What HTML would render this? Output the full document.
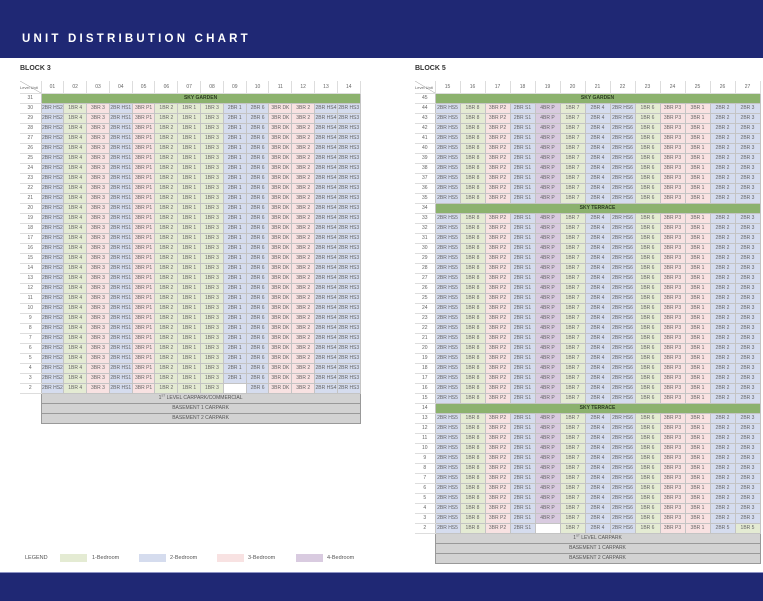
<!DOCTYPE html>
<html><head><meta charset="utf-8"><style>
body{margin:0;width:763px;height:600px;position:relative;background:#fff;font-family:"Liberation Sans",sans-serif;overflow:hidden}
.top{position:absolute;left:0;top:0;width:763px;height:58px;background:#1f2874}
.top span{position:absolute;left:22px;top:33px;color:#fff;font-size:11.5px;letter-spacing:3.2px;font-weight:bold}
.bot{position:absolute;left:0;top:572px;width:763px;height:28px;background:#1f2874;border-top:1px solid #8d93c4}
.blk{position:absolute;top:65px;font-size:7px;font-weight:bold;color:#333}
table{position:absolute;top:81px;border-collapse:collapse;table-layout:fixed;font-size:5px;color:#666}
td{padding:0;height:9px;line-height:9px;text-align:center;border:1px solid #c4c4c4;white-space:nowrap;overflow:hidden}
tr.h td{height:12px;border-top:none;border-color:#ddd}
td.l{border-left:none;border-right:1px solid #c4c4c4;border-top:none;border-bottom:1px solid #ddd;background:#fff}
td.d{position:relative;font-size:4px;text-align:left;background:linear-gradient(to top right,transparent 48%,#999 50%,transparent 52%)}
.g{background:#e4ebd3}.b{background:#d5dcee}.p{background:#f8e2e2}.v{background:#d9cbe0}
.s{background:#8cb26e;color:#2d3d20;font-weight:bold}
.c{background:#d2d2d2;color:#555;border-color:#999}
td.e{border:none;background:#fff}
td.w{background:#fff}
.leg{position:absolute;top:555px;font-size:5.5px;color:#555}
.sw{position:absolute;top:554px;width:27px;height:8px}
</style></head><body>
<div class="top"><span>UNIT DISTRIBUTION CHART</span></div>
<div class="blk" style="left:20px">BLOCK 3</div>
<div class="blk" style="left:415px">BLOCK 5</div>

<table style="left:20px;width:340px">
<colgroup><col style="width:21px"><col span="14" style="width:22.8px"></colgroup>
<tr class="h"><td class="l d">Level&nbsp;Unit</td><td>01<td>02<td>03<td>04<td>05<td>06<td>07<td>08<td>09<td>10<td>11<td>12<td>13<td>14</tr>
<tr><td class="l">31<td class="s" colspan="14">SKY GARDEN</tr>
<tr><td class="l">30<td class=b>2BR HS2<td class=g>1BR 4<td class=p>3BR 3<td class=b>2BR HS1<td class=p>3BR P1<td class=g>1BR 2<td class=g>1BR 1<td class=g>1BR 3<td class=b>2BR 1<td class=b>2BR 6<td class=p>3BR DK<td class=p>3BR 2<td class=b>2BR HS4<td class=b>2BR HS3</tr>
<tr><td class="l">29<td class=b>2BR HS2<td class=g>1BR 4<td class=p>3BR 3<td class=b>2BR HS1<td class=p>3BR P1<td class=g>1BR 2<td class=g>1BR 1<td class=g>1BR 3<td class=b>2BR 1<td class=b>2BR 6<td class=p>3BR DK<td class=p>3BR 2<td class=b>2BR HS4<td class=b>2BR HS3</tr>
<tr><td class="l">28<td class=b>2BR HS2<td class=g>1BR 4<td class=p>3BR 3<td class=b>2BR HS1<td class=p>3BR P1<td class=g>1BR 2<td class=g>1BR 1<td class=g>1BR 3<td class=b>2BR 1<td class=b>2BR 6<td class=p>3BR DK<td class=p>3BR 2<td class=b>2BR HS4<td class=b>2BR HS3</tr>
<tr><td class="l">27<td class=b>2BR HS2<td class=g>1BR 4<td class=p>3BR 3<td class=b>2BR HS1<td class=p>3BR P1<td class=g>1BR 2<td class=g>1BR 1<td class=g>1BR 3<td class=b>2BR 1<td class=b>2BR 6<td class=p>3BR DK<td class=p>3BR 2<td class=b>2BR HS4<td class=b>2BR HS3</tr>
<tr><td class="l">26<td class=b>2BR HS2<td class=g>1BR 4<td class=p>3BR 3<td class=b>2BR HS1<td class=p>3BR P1<td class=g>1BR 2<td class=g>1BR 1<td class=g>1BR 3<td class=b>2BR 1<td class=b>2BR 6<td class=p>3BR DK<td class=p>3BR 2<td class=b>2BR HS4<td class=b>2BR HS3</tr>
<tr><td class="l">25<td class=b>2BR HS2<td class=g>1BR 4<td class=p>3BR 3<td class=b>2BR HS1<td class=p>3BR P1<td class=g>1BR 2<td class=g>1BR 1<td class=g>1BR 3<td class=b>2BR 1<td class=b>2BR 6<td class=p>3BR DK<td class=p>3BR 2<td class=b>2BR HS4<td class=b>2BR HS3</tr>
<tr><td class="l">24<td class=b>2BR HS2<td class=g>1BR 4<td class=p>3BR 3<td class=b>2BR HS1<td class=p>3BR P1<td class=g>1BR 2<td class=g>1BR 1<td class=g>1BR 3<td class=b>2BR 1<td class=b>2BR 6<td class=p>3BR DK<td class=p>3BR 2<td class=b>2BR HS4<td class=b>2BR HS3</tr>
<tr><td class="l">23<td class=b>2BR HS2<td class=g>1BR 4<td class=p>3BR 3<td class=b>2BR HS1<td class=p>3BR P1<td class=g>1BR 2<td class=g>1BR 1<td class=g>1BR 3<td class=b>2BR 1<td class=b>2BR 6<td class=p>3BR DK<td class=p>3BR 2<td class=b>2BR HS4<td class=b>2BR HS3</tr>
<tr><td class="l">22<td class=b>2BR HS2<td class=g>1BR 4<td class=p>3BR 3<td class=b>2BR HS1<td class=p>3BR P1<td class=g>1BR 2<td class=g>1BR 1<td class=g>1BR 3<td class=b>2BR 1<td class=b>2BR 6<td class=p>3BR DK<td class=p>3BR 2<td class=b>2BR HS4<td class=b>2BR HS3</tr>
<tr><td class="l">21<td class=b>2BR HS2<td class=g>1BR 4<td class=p>3BR 3<td class=b>2BR HS1<td class=p>3BR P1<td class=g>1BR 2<td class=g>1BR 1<td class=g>1BR 3<td class=b>2BR 1<td class=b>2BR 6<td class=p>3BR DK<td class=p>3BR 2<td class=b>2BR HS4<td class=b>2BR HS3</tr>
<tr><td class="l">20<td class=b>2BR HS2<td class=g>1BR 4<td class=p>3BR 3<td class=b>2BR HS1<td class=p>3BR P1<td class=g>1BR 2<td class=g>1BR 1<td class=g>1BR 3<td class=b>2BR 1<td class=b>2BR 6<td class=p>3BR DK<td class=p>3BR 2<td class=b>2BR HS4<td class=b>2BR HS3</tr>
<tr><td class="l">19<td class=b>2BR HS2<td class=g>1BR 4<td class=p>3BR 3<td class=b>2BR HS1<td class=p>3BR P1<td class=g>1BR 2<td class=g>1BR 1<td class=g>1BR 3<td class=b>2BR 1<td class=b>2BR 6<td class=p>3BR DK<td class=p>3BR 2<td class=b>2BR HS4<td class=b>2BR HS3</tr>
<tr><td class="l">18<td class=b>2BR HS2<td class=g>1BR 4<td class=p>3BR 3<td class=b>2BR HS1<td class=p>3BR P1<td class=g>1BR 2<td class=g>1BR 1<td class=g>1BR 3<td class=b>2BR 1<td class=b>2BR 6<td class=p>3BR DK<td class=p>3BR 2<td class=b>2BR HS4<td class=b>2BR HS3</tr>
<tr><td class="l">17<td class=b>2BR HS2<td class=g>1BR 4<td class=p>3BR 3<td class=b>2BR HS1<td class=p>3BR P1<td class=g>1BR 2<td class=g>1BR 1<td class=g>1BR 3<td class=b>2BR 1<td class=b>2BR 6<td class=p>3BR DK<td class=p>3BR 2<td class=b>2BR HS4<td class=b>2BR HS3</tr>
<tr><td class="l">16<td class=b>2BR HS2<td class=g>1BR 4<td class=p>3BR 3<td class=b>2BR HS1<td class=p>3BR P1<td class=g>1BR 2<td class=g>1BR 1<td class=g>1BR 3<td class=b>2BR 1<td class=b>2BR 6<td class=p>3BR DK<td class=p>3BR 2<td class=b>2BR HS4<td class=b>2BR HS3</tr>
<tr><td class="l">15<td class=b>2BR HS2<td class=g>1BR 4<td class=p>3BR 3<td class=b>2BR HS1<td class=p>3BR P1<td class=g>1BR 2<td class=g>1BR 1<td class=g>1BR 3<td class=b>2BR 1<td class=b>2BR 6<td class=p>3BR DK<td class=p>3BR 2<td class=b>2BR HS4<td class=b>2BR HS3</tr>
<tr><td class="l">14<td class=b>2BR HS2<td class=g>1BR 4<td class=p>3BR 3<td class=b>2BR HS1<td class=p>3BR P1<td class=g>1BR 2<td class=g>1BR 1<td class=g>1BR 3<td class=b>2BR 1<td class=b>2BR 6<td class=p>3BR DK<td class=p>3BR 2<td class=b>2BR HS4<td class=b>2BR HS3</tr>
<tr><td class="l">13<td class=b>2BR HS2<td class=g>1BR 4<td class=p>3BR 3<td class=b>2BR HS1<td class=p>3BR P1<td class=g>1BR 2<td class=g>1BR 1<td class=g>1BR 3<td class=b>2BR 1<td class=b>2BR 6<td class=p>3BR DK<td class=p>3BR 2<td class=b>2BR HS4<td class=b>2BR HS3</tr>
<tr><td class="l">12<td class=b>2BR HS2<td class=g>1BR 4<td class=p>3BR 3<td class=b>2BR HS1<td class=p>3BR P1<td class=g>1BR 2<td class=g>1BR 1<td class=g>1BR 3<td class=b>2BR 1<td class=b>2BR 6<td class=p>3BR DK<td class=p>3BR 2<td class=b>2BR HS4<td class=b>2BR HS3</tr>
<tr><td class="l">11<td class=b>2BR HS2<td class=g>1BR 4<td class=p>3BR 3<td class=b>2BR HS1<td class=p>3BR P1<td class=g>1BR 2<td class=g>1BR 1<td class=g>1BR 3<td class=b>2BR 1<td class=b>2BR 6<td class=p>3BR DK<td class=p>3BR 2<td class=b>2BR HS4<td class=b>2BR HS3</tr>
<tr><td class="l">10<td class=b>2BR HS2<td class=g>1BR 4<td class=p>3BR 3<td class=b>2BR HS1<td class=p>3BR P1<td class=g>1BR 2<td class=g>1BR 1<td class=g>1BR 3<td class=b>2BR 1<td class=b>2BR 6<td class=p>3BR DK<td class=p>3BR 2<td class=b>2BR HS4<td class=b>2BR HS3</tr>
<tr><td class="l">9<td class=b>2BR HS2<td class=g>1BR 4<td class=p>3BR 3<td class=b>2BR HS1<td class=p>3BR P1<td class=g>1BR 2<td class=g>1BR 1<td class=g>1BR 3<td class=b>2BR 1<td class=b>2BR 6<td class=p>3BR DK<td class=p>3BR 2<td class=b>2BR HS4<td class=b>2BR HS3</tr>
<tr><td class="l">8<td class=b>2BR HS2<td class=g>1BR 4<td class=p>3BR 3<td class=b>2BR HS1<td class=p>3BR P1<td class=g>1BR 2<td class=g>1BR 1<td class=g>1BR 3<td class=b>2BR 1<td class=b>2BR 6<td class=p>3BR DK<td class=p>3BR 2<td class=b>2BR HS4<td class=b>2BR HS3</tr>
<tr><td class="l">7<td class=b>2BR HS2<td class=g>1BR 4<td class=p>3BR 3<td class=b>2BR HS1<td class=p>3BR P1<td class=g>1BR 2<td class=g>1BR 1<td class=g>1BR 3<td class=b>2BR 1<td class=b>2BR 6<td class=p>3BR DK<td class=p>3BR 2<td class=b>2BR HS4<td class=b>2BR HS3</tr>
<tr><td class="l">6<td class=b>2BR HS2<td class=g>1BR 4<td class=p>3BR 3<td class=b>2BR HS1<td class=p>3BR P1<td class=g>1BR 2<td class=g>1BR 1<td class=g>1BR 3<td class=b>2BR 1<td class=b>2BR 6<td class=p>3BR DK<td class=p>3BR 2<td class=b>2BR HS4<td class=b>2BR HS3</tr>
<tr><td class="l">5<td class=b>2BR HS2<td class=g>1BR 4<td class=p>3BR 3<td class=b>2BR HS1<td class=p>3BR P1<td class=g>1BR 2<td class=g>1BR 1<td class=g>1BR 3<td class=b>2BR 1<td class=b>2BR 6<td class=p>3BR DK<td class=p>3BR 2<td class=b>2BR HS4<td class=b>2BR HS3</tr>
<tr><td class="l">4<td class=b>2BR HS2<td class=g>1BR 4<td class=p>3BR 3<td class=b>2BR HS1<td class=p>3BR P1<td class=g>1BR 2<td class=g>1BR 1<td class=g>1BR 3<td class=b>2BR 1<td class=b>2BR 6<td class=p>3BR DK<td class=p>3BR 2<td class=b>2BR HS4<td class=b>2BR HS3</tr>
<tr><td class="l">3<td class=b>2BR HS2<td class=g>1BR 4<td class=p>3BR 3<td class=b>2BR HS1<td class=p>3BR P1<td class=g>1BR 2<td class=g>1BR 1<td class=g>1BR 3<td class=b>2BR 1<td class=b>2BR 6<td class=p>3BR DK<td class=p>3BR 2<td class=b>2BR HS4<td class=b>2BR HS3</tr>
<tr><td class="l">2<td class=b>2BR HS2<td class=g>1BR 4<td class=p>3BR 3<td class=b>2BR HS1<td class=p>3BR P1<td class=g>1BR 2<td class=g>1BR 1<td class=g>1BR 3<td class=w><td class=b>2BR 6<td class=p>3BR DK<td class=p>3BR 2<td class=b>2BR HS4<td class=b>2BR HS3</tr>
<tr><td class="e"><td class="c" colspan="14">1<sup style="font-size:3px;line-height:0">ST</sup> LEVEL CARPARK/COMMERCIAL</tr>
<tr><td class="e"><td class="c" colspan="14">BASEMENT 1 CARPARK</tr>
<tr><td class="e"><td class="c" colspan="14">BASEMENT 2 CARPARK</tr>
</table>

<table style="left:415px;width:345px">
<colgroup><col style="width:20px"><col span="13" style="width:25px"></colgroup>
<tr class="h"><td class="l d">Level&nbsp;Unit</td><td>15<td>16<td>17<td>18<td>19<td>20<td>21<td>22<td>23<td>24<td>25<td>26<td>27</tr>
<tr><td class="l">45<td class="s" colspan="13">SKY GARDEN</tr>
<tr><td class="l">44<td class=b>2BR HS5<td class=g>1BR 8<td class=p>3BR P2<td class=b>2BR S1<td class=v>4BR P<td class=g>1BR 7<td class=b>2BR 4<td class=b>2BR HS6<td class=g>1BR 6<td class=p>3BR P3<td class=p>3BR 1<td class=b>2BR 2<td class=b>2BR 3</tr>
<tr><td class="l">43<td class=b>2BR HS5<td class=g>1BR 8<td class=p>3BR P2<td class=b>2BR S1<td class=v>4BR P<td class=g>1BR 7<td class=b>2BR 4<td class=b>2BR HS6<td class=g>1BR 6<td class=p>3BR P3<td class=p>3BR 1<td class=b>2BR 2<td class=b>2BR 3</tr>
<tr><td class="l">42<td class=b>2BR HS5<td class=g>1BR 8<td class=p>3BR P2<td class=b>2BR S1<td class=v>4BR P<td class=g>1BR 7<td class=b>2BR 4<td class=b>2BR HS6<td class=g>1BR 6<td class=p>3BR P3<td class=p>3BR 1<td class=b>2BR 2<td class=b>2BR 3</tr>
<tr><td class="l">41<td class=b>2BR HS5<td class=g>1BR 8<td class=p>3BR P2<td class=b>2BR S1<td class=v>4BR P<td class=g>1BR 7<td class=b>2BR 4<td class=b>2BR HS6<td class=g>1BR 6<td class=p>3BR P3<td class=p>3BR 1<td class=b>2BR 2<td class=b>2BR 3</tr>
<tr><td class="l">40<td class=b>2BR HS5<td class=g>1BR 8<td class=p>3BR P2<td class=b>2BR S1<td class=v>4BR P<td class=g>1BR 7<td class=b>2BR 4<td class=b>2BR HS6<td class=g>1BR 6<td class=p>3BR P3<td class=p>3BR 1<td class=b>2BR 2<td class=b>2BR 3</tr>
<tr><td class="l">39<td class=b>2BR HS5<td class=g>1BR 8<td class=p>3BR P2<td class=b>2BR S1<td class=v>4BR P<td class=g>1BR 7<td class=b>2BR 4<td class=b>2BR HS6<td class=g>1BR 6<td class=p>3BR P3<td class=p>3BR 1<td class=b>2BR 2<td class=b>2BR 3</tr>
<tr><td class="l">38<td class=b>2BR HS5<td class=g>1BR 8<td class=p>3BR P2<td class=b>2BR S1<td class=v>4BR P<td class=g>1BR 7<td class=b>2BR 4<td class=b>2BR HS6<td class=g>1BR 6<td class=p>3BR P3<td class=p>3BR 1<td class=b>2BR 2<td class=b>2BR 3</tr>
<tr><td class="l">37<td class=b>2BR HS5<td class=g>1BR 8<td class=p>3BR P2<td class=b>2BR S1<td class=v>4BR P<td class=g>1BR 7<td class=b>2BR 4<td class=b>2BR HS6<td class=g>1BR 6<td class=p>3BR P3<td class=p>3BR 1<td class=b>2BR 2<td class=b>2BR 3</tr>
<tr><td class="l">36<td class=b>2BR HS5<td class=g>1BR 8<td class=p>3BR P2<td class=b>2BR S1<td class=v>4BR P<td class=g>1BR 7<td class=b>2BR 4<td class=b>2BR HS6<td class=g>1BR 6<td class=p>3BR P3<td class=p>3BR 1<td class=b>2BR 2<td class=b>2BR 3</tr>
<tr><td class="l">35<td class=b>2BR HS5<td class=g>1BR 8<td class=p>3BR P2<td class=b>2BR S1<td class=v>4BR P<td class=g>1BR 7<td class=b>2BR 4<td class=b>2BR HS6<td class=g>1BR 6<td class=p>3BR P3<td class=p>3BR 1<td class=b>2BR 2<td class=b>2BR 3</tr>
<tr><td class="l">34<td class="s" colspan="13">SKY TERRACE</tr>
<tr><td class="l">33<td class=b>2BR HS5<td class=g>1BR 8<td class=p>3BR P2<td class=b>2BR S1<td class=v>4BR P<td class=g>1BR 7<td class=b>2BR 4<td class=b>2BR HS6<td class=g>1BR 6<td class=p>3BR P3<td class=p>3BR 1<td class=b>2BR 2<td class=b>2BR 3</tr>
<tr><td class="l">32<td class=b>2BR HS5<td class=g>1BR 8<td class=p>3BR P2<td class=b>2BR S1<td class=v>4BR P<td class=g>1BR 7<td class=b>2BR 4<td class=b>2BR HS6<td class=g>1BR 6<td class=p>3BR P3<td class=p>3BR 1<td class=b>2BR 2<td class=b>2BR 3</tr>
<tr><td class="l">31<td class=b>2BR HS5<td class=g>1BR 8<td class=p>3BR P2<td class=b>2BR S1<td class=v>4BR P<td class=g>1BR 7<td class=b>2BR 4<td class=b>2BR HS6<td class=g>1BR 6<td class=p>3BR P3<td class=p>3BR 1<td class=b>2BR 2<td class=b>2BR 3</tr>
<tr><td class="l">30<td class=b>2BR HS5<td class=g>1BR 8<td class=p>3BR P2<td class=b>2BR S1<td class=v>4BR P<td class=g>1BR 7<td class=b>2BR 4<td class=b>2BR HS6<td class=g>1BR 6<td class=p>3BR P3<td class=p>3BR 1<td class=b>2BR 2<td class=b>2BR 3</tr>
<tr><td class="l">29<td class=b>2BR HS5<td class=g>1BR 8<td class=p>3BR P2<td class=b>2BR S1<td class=v>4BR P<td class=g>1BR 7<td class=b>2BR 4<td class=b>2BR HS6<td class=g>1BR 6<td class=p>3BR P3<td class=p>3BR 1<td class=b>2BR 2<td class=b>2BR 3</tr>
<tr><td class="l">28<td class=b>2BR HS5<td class=g>1BR 8<td class=p>3BR P2<td class=b>2BR S1<td class=v>4BR P<td class=g>1BR 7<td class=b>2BR 4<td class=b>2BR HS6<td class=g>1BR 6<td class=p>3BR P3<td class=p>3BR 1<td class=b>2BR 2<td class=b>2BR 3</tr>
<tr><td class="l">27<td class=b>2BR HS5<td class=g>1BR 8<td class=p>3BR P2<td class=b>2BR S1<td class=v>4BR P<td class=g>1BR 7<td class=b>2BR 4<td class=b>2BR HS6<td class=g>1BR 6<td class=p>3BR P3<td class=p>3BR 1<td class=b>2BR 2<td class=b>2BR 3</tr>
<tr><td class="l">26<td class=b>2BR HS5<td class=g>1BR 8<td class=p>3BR P2<td class=b>2BR S1<td class=v>4BR P<td class=g>1BR 7<td class=b>2BR 4<td class=b>2BR HS6<td class=g>1BR 6<td class=p>3BR P3<td class=p>3BR 1<td class=b>2BR 2<td class=b>2BR 3</tr>
<tr><td class="l">25<td class=b>2BR HS5<td class=g>1BR 8<td class=p>3BR P2<td class=b>2BR S1<td class=v>4BR P<td class=g>1BR 7<td class=b>2BR 4<td class=b>2BR HS6<td class=g>1BR 6<td class=p>3BR P3<td class=p>3BR 1<td class=b>2BR 2<td class=b>2BR 3</tr>
<tr><td class="l">24<td class=b>2BR HS5<td class=g>1BR 8<td class=p>3BR P2<td class=b>2BR S1<td class=v>4BR P<td class=g>1BR 7<td class=b>2BR 4<td class=b>2BR HS6<td class=g>1BR 6<td class=p>3BR P3<td class=p>3BR 1<td class=b>2BR 2<td class=b>2BR 3</tr>
<tr><td class="l">23<td class=b>2BR HS5<td class=g>1BR 8<td class=p>3BR P2<td class=b>2BR S1<td class=v>4BR P<td class=g>1BR 7<td class=b>2BR 4<td class=b>2BR HS6<td class=g>1BR 6<td class=p>3BR P3<td class=p>3BR 1<td class=b>2BR 2<td class=b>2BR 3</tr>
<tr><td class="l">22<td class=b>2BR HS5<td class=g>1BR 8<td class=p>3BR P2<td class=b>2BR S1<td class=v>4BR P<td class=g>1BR 7<td class=b>2BR 4<td class=b>2BR HS6<td class=g>1BR 6<td class=p>3BR P3<td class=p>3BR 1<td class=b>2BR 2<td class=b>2BR 3</tr>
<tr><td class="l">21<td class=b>2BR HS5<td class=g>1BR 8<td class=p>3BR P2<td class=b>2BR S1<td class=v>4BR P<td class=g>1BR 7<td class=b>2BR 4<td class=b>2BR HS6<td class=g>1BR 6<td class=p>3BR P3<td class=p>3BR 1<td class=b>2BR 2<td class=b>2BR 3</tr>
<tr><td class="l">20<td class=b>2BR HS5<td class=g>1BR 8<td class=p>3BR P2<td class=b>2BR S1<td class=v>4BR P<td class=g>1BR 7<td class=b>2BR 4<td class=b>2BR HS6<td class=g>1BR 6<td class=p>3BR P3<td class=p>3BR 1<td class=b>2BR 2<td class=b>2BR 3</tr>
<tr><td class="l">19<td class=b>2BR HS5<td class=g>1BR 8<td class=p>3BR P2<td class=b>2BR S1<td class=v>4BR P<td class=g>1BR 7<td class=b>2BR 4<td class=b>2BR HS6<td class=g>1BR 6<td class=p>3BR P3<td class=p>3BR 1<td class=b>2BR 2<td class=b>2BR 3</tr>
<tr><td class="l">18<td class=b>2BR HS5<td class=g>1BR 8<td class=p>3BR P2<td class=b>2BR S1<td class=v>4BR P<td class=g>1BR 7<td class=b>2BR 4<td class=b>2BR HS6<td class=g>1BR 6<td class=p>3BR P3<td class=p>3BR 1<td class=b>2BR 2<td class=b>2BR 3</tr>
<tr><td class="l">17<td class=b>2BR HS5<td class=g>1BR 8<td class=p>3BR P2<td class=b>2BR S1<td class=v>4BR P<td class=g>1BR 7<td class=b>2BR 4<td class=b>2BR HS6<td class=g>1BR 6<td class=p>3BR P3<td class=p>3BR 1<td class=b>2BR 2<td class=b>2BR 3</tr>
<tr><td class="l">16<td class=b>2BR HS5<td class=g>1BR 8<td class=p>3BR P2<td class=b>2BR S1<td class=v>4BR P<td class=g>1BR 7<td class=b>2BR 4<td class=b>2BR HS6<td class=g>1BR 6<td class=p>3BR P3<td class=p>3BR 1<td class=b>2BR 2<td class=b>2BR 3</tr>
<tr><td class="l">15<td class=b>2BR HS5<td class=g>1BR 8<td class=p>3BR P2<td class=b>2BR S1<td class=v>4BR P<td class=g>1BR 7<td class=b>2BR 4<td class=b>2BR HS6<td class=g>1BR 6<td class=p>3BR P3<td class=p>3BR 1<td class=b>2BR 2<td class=b>2BR 3</tr>
<tr><td class="l">14<td class="s" colspan="13">SKY TERRACE</tr>
<tr><td class="l">13<td class=b>2BR HS5<td class=g>1BR 8<td class=p>3BR P2<td class=b>2BR S1<td class=v>4BR P<td class=g>1BR 7<td class=b>2BR 4<td class=b>2BR HS6<td class=g>1BR 6<td class=p>3BR P3<td class=p>3BR 1<td class=b>2BR 2<td class=b>2BR 3</tr>
<tr><td class="l">12<td class=b>2BR HS5<td class=g>1BR 8<td class=p>3BR P2<td class=b>2BR S1<td class=v>4BR P<td class=g>1BR 7<td class=b>2BR 4<td class=b>2BR HS6<td class=g>1BR 6<td class=p>3BR P3<td class=p>3BR 1<td class=b>2BR 2<td class=b>2BR 3</tr>
<tr><td class="l">11<td class=b>2BR HS5<td class=g>1BR 8<td class=p>3BR P2<td class=b>2BR S1<td class=v>4BR P<td class=g>1BR 7<td class=b>2BR 4<td class=b>2BR HS6<td class=g>1BR 6<td class=p>3BR P3<td class=p>3BR 1<td class=b>2BR 2<td class=b>2BR 3</tr>
<tr><td class="l">10<td class=b>2BR HS5<td class=g>1BR 8<td class=p>3BR P2<td class=b>2BR S1<td class=v>4BR P<td class=g>1BR 7<td class=b>2BR 4<td class=b>2BR HS6<td class=g>1BR 6<td class=p>3BR P3<td class=p>3BR 1<td class=b>2BR 2<td class=b>2BR 3</tr>
<tr><td class="l">9<td class=b>2BR HS5<td class=g>1BR 8<td class=p>3BR P2<td class=b>2BR S1<td class=v>4BR P<td class=g>1BR 7<td class=b>2BR 4<td class=b>2BR HS6<td class=g>1BR 6<td class=p>3BR P3<td class=p>3BR 1<td class=b>2BR 2<td class=b>2BR 3</tr>
<tr><td class="l">8<td class=b>2BR HS5<td class=g>1BR 8<td class=p>3BR P2<td class=b>2BR S1<td class=v>4BR P<td class=g>1BR 7<td class=b>2BR 4<td class=b>2BR HS6<td class=g>1BR 6<td class=p>3BR P3<td class=p>3BR 1<td class=b>2BR 2<td class=b>2BR 3</tr>
<tr><td class="l">7<td class=b>2BR HS5<td class=g>1BR 8<td class=p>3BR P2<td class=b>2BR S1<td class=v>4BR P<td class=g>1BR 7<td class=b>2BR 4<td class=b>2BR HS6<td class=g>1BR 6<td class=p>3BR P3<td class=p>3BR 1<td class=b>2BR 2<td class=b>2BR 3</tr>
<tr><td class="l">6<td class=b>2BR HS5<td class=g>1BR 8<td class=p>3BR P2<td class=b>2BR S1<td class=v>4BR P<td class=g>1BR 7<td class=b>2BR 4<td class=b>2BR HS6<td class=g>1BR 6<td class=p>3BR P3<td class=p>3BR 1<td class=b>2BR 2<td class=b>2BR 3</tr>
<tr><td class="l">5<td class=b>2BR HS5<td class=g>1BR 8<td class=p>3BR P2<td class=b>2BR S1<td class=v>4BR P<td class=g>1BR 7<td class=b>2BR 4<td class=b>2BR HS6<td class=g>1BR 6<td class=p>3BR P3<td class=p>3BR 1<td class=b>2BR 2<td class=b>2BR 3</tr>
<tr><td class="l">4<td class=b>2BR HS5<td class=g>1BR 8<td class=p>3BR P2<td class=b>2BR S1<td class=v>4BR P<td class=g>1BR 7<td class=b>2BR 4<td class=b>2BR HS6<td class=g>1BR 6<td class=p>3BR P3<td class=p>3BR 1<td class=b>2BR 2<td class=b>2BR 3</tr>
<tr><td class="l">3<td class=b>2BR HS5<td class=g>1BR 8<td class=p>3BR P2<td class=b>2BR S1<td class=v>4BR P<td class=g>1BR 7<td class=b>2BR 4<td class=b>2BR HS6<td class=g>1BR 6<td class=p>3BR P3<td class=p>3BR 1<td class=b>2BR 2<td class=b>2BR 3</tr>
<tr><td class="l">2<td class=b>2BR HS5<td class=g>1BR 8<td class=p>3BR P2<td class=b>2BR S1<td class=w><td class=g>1BR 7<td class=b>2BR 4<td class=b>2BR HS6<td class=g>1BR 6<td class=p>3BR P3<td class=p>3BR 1<td class=b>2BR 5<td class=g>1BR 5</tr>
<tr><td class="e"><td class="c" colspan="13">1<sup style="font-size:3px;line-height:0">ST</sup> LEVEL CARPARK</tr>
<tr><td class="e"><td class="c" colspan="13">BASEMENT 1 CARPARK</tr>
<tr><td class="e"><td class="c" colspan="13">BASEMENT 2 CARPARK</tr>
</table>

<div class="leg" style="left:25px">LEGEND</div>
<div class="sw g" style="left:60px"></div><div class="leg" style="left:92px">1-Bedroom</div>
<div class="sw b" style="left:139px"></div><div class="leg" style="left:170px">2-Bedroom</div>
<div class="sw p" style="left:217px"></div><div class="leg" style="left:248px">3-Bedroom</div>
<div class="sw v" style="left:296px"></div><div class="leg" style="left:327px">4-Bedroom</div>
<div class="bot"></div>
</body></html>
